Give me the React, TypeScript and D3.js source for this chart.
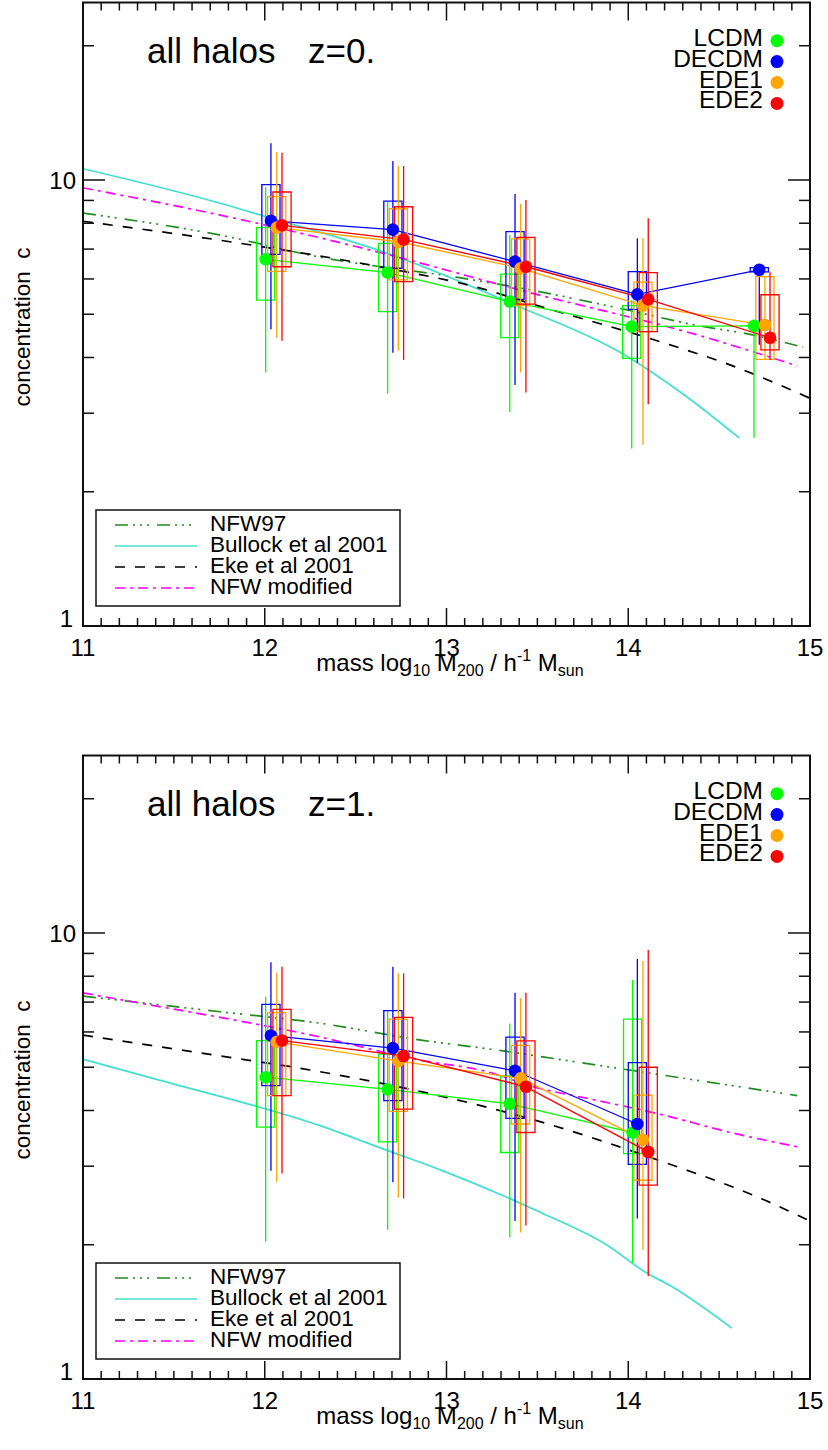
import React from 'react';
import * as d3 from 'd3';

// ---------------- data ----------------
const MODEL_NAMES = ['LCDM', 'DECDM', 'EDE1', 'EDE2'];
const MODEL_COLORS = ['#00ff00', '#0000ff', '#ffa500', '#ff0000'];

const X_TICKS = [11, 12, 13, 14, 15];
const Y_MAJOR = [1, 10];
const Y_MINOR = [2, 3, 4, 5, 6, 7, 8, 9, 20];

// z = 0 panel, rows = models (LCDM, DECDM, EDE1, EDE2)
const Z0_MASS = [
  [12.005, 12.676, 13.348, 14.019, 14.692],
  [12.034, 12.705, 13.377, 14.050, 14.721],
  [12.066, 12.735, 13.408, 14.081, 14.752],
  [12.095, 12.764, 13.437, 14.110, 14.780],
];
const Z0_C = [
  [6.64, 6.20, 5.34, 4.69, 4.71],
  [8.10, 7.74, 6.56, 5.54, 6.29],
  [7.82, 7.27, 6.34, 5.23, 4.73],
  [7.91, 7.35, 6.39, 5.40, 4.43],
];
const Z0_BOX_LO = [
  [5.38, 5.07, 4.43, 3.98, 4.71],
  [6.81, 6.34, 5.40, 5.13, 6.22],
  [6.24, 5.97, 5.23, 4.57, 3.96],
  [6.39, 5.92, 5.27, 4.57, 4.16],
];
const Z0_BOX_HI = [
  [7.82, 7.21, 6.15, 5.23, 4.71],
  [9.76, 8.97, 7.66, 6.23, 6.36],
  [9.18, 8.62, 7.38, 5.90, 6.07],
  [9.40, 8.71, 7.44, 6.20, 5.53],
];
const Z0_WHISK_LO = [
  [3.70, 3.32, 3.02, 2.50, 2.64],
  [4.63, 4.10, 3.47, 3.89, 4.27],
  [4.43, 4.14, 3.70, 2.55, 3.96],
  [4.36, 3.95, 3.34, 3.14, 3.95],
];
const Z0_WHISK_HI = [
  [9.63, 8.93, 7.53, 5.38, 4.84],
  [12.09, 11.03, 9.30, 7.40, 6.29],
  [11.56, 10.75, 8.84, 7.40, 6.07],
  [11.51, 10.75, 9.02, 8.21, 6.23],
];

// z = 1 panel
const Z1_MASS = [
  [12.005, 12.676, 13.348, 14.024],
  [12.034, 12.705, 13.377, 14.050],
  [12.066, 12.735, 13.408, 14.081],
  [12.095, 12.764, 13.437, 14.110],
];
const Z1_C = [
  [4.75, 4.46, 4.14, 3.57],
  [5.89, 5.52, 4.91, 3.73],
  [5.70, 5.16, 4.72, 3.44],
  [5.74, 5.30, 4.52, 3.23],
];
const Z1_BOX_LO = [
  [3.67, 3.40, 3.22, 3.20],
  [4.55, 4.21, 3.84, 3.03],
  [4.32, 3.98, 3.73, 2.79],
  [4.32, 4.03, 3.57, 2.72],
];
const Z1_BOX_HI = [
  [5.74, 5.35, 4.78, 6.41],
  [6.92, 6.70, 5.84, 5.12],
  [6.63, 6.41, 5.60, 4.33],
  [6.74, 6.47, 5.73, 5.00],
];
const Z1_WHISK_LO = [
  [2.03, 2.16, 2.08, 1.82],
  [2.93, 2.76, 2.26, 2.29],
  [2.77, 2.55, 2.13, 1.95],
  [2.89, 2.54, 2.21, 1.70],
];
const Z1_WHISK_HI = [
  [7.20, 6.72, 6.27, 7.85],
  [8.60, 8.40, 7.35, 8.74],
  [8.15, 8.12, 7.14, 8.65],
  [8.40, 8.12, 7.35, 9.16],
];

// analytic curves, z = 0
const Z0_NFW97_MASS = [11.0, 11.75, 12.30, 13.07, 13.40, 13.95, 14.39, 14.69, 14.96];
const Z0_NFW97_C = [8.43, 7.53, 6.72, 6.04, 5.73, 5.16, 4.71, 4.49, 4.22];
const Z0_BULLOCK_MASS = [11.0, 11.75, 12.0, 12.67, 13.40, 13.95, 14.32, 14.61];
const Z0_BULLOCK_C = [10.6, 8.88, 8.29, 6.86, 5.20, 4.12, 3.27, 2.64];
const Z0_EKE_MASS = [11.0, 11.75, 12.63, 13.22, 13.40, 14.23, 14.56, 15.0];
const Z0_EKE_C = [8.08, 7.33, 6.39, 5.67, 5.38, 4.27, 3.85, 3.24];
const Z0_NFWMOD_MASS = [11.0, 11.75, 12.73, 13.40, 14.40, 14.93];
const Z0_NFWMOD_C = [9.6, 8.35, 6.72, 5.67, 4.47, 3.83];

// analytic curves, z = 1
const Z1_NFW97_MASS = [11.0, 11.754, 12.30, 12.85, 13.27, 13.82, 14.37, 14.93];
const Z1_NFW97_C = [7.22, 6.66, 6.28, 5.76, 5.47, 5.06, 4.68, 4.32];
const Z1_BULLOCK_MASS = [11.0, 11.42, 12.32, 12.67, 12.97, 13.53, 13.88, 14.10, 14.23, 14.57];
const Z1_BULLOCK_C = [5.21, 4.68, 3.68, 3.26, 2.94, 2.35, 2.00, 1.73, 1.62, 1.30];
const Z1_EKE_MASS = [11.0, 11.754, 12.25, 13.51, 14.19, 14.73, 15.0];
const Z1_EKE_C = [5.90, 5.30, 4.93, 3.78, 3.07, 2.54, 2.26];
const Z1_NFWMOD_MASS = [11.0, 11.42, 11.754, 12.25, 12.85, 13.22, 13.48, 13.82, 14.19, 14.55, 14.94];
const Z1_NFWMOD_C = [7.34, 6.84, 6.47, 5.91, 5.19, 4.89, 4.52, 4.22, 3.91, 3.58, 3.31];

const CURVE_NAMES = ['NFW97', 'Bullock et al 2001', 'Eke et al 2001', 'NFW modified'];
const CURVE_COLORS = ['#228b22', '#40e0d0', '#000000', '#ff00ff'];
const CURVE_DASH = ['13 5 2 5 2 5 2 8', '', '10 10', '10 5 3 5'];

// ---------------- layout ----------------
const W = 828;
const H = 1450;
const X0 = 83;
const X1 = 810;
const DEC = 446;
const FONT = '"Liberation Sans", Arial, Helvetica, sans-serif';

type PanelProps = {
  id: string;
  y0: number;
  zLabel: string;
  mass: number[][];
  c: number[][];
  boxLo: number[][];
  boxHi: number[][];
  wLo: number[][];
  wHi: number[][];
  curves: { m: number[]; c: number[] }[];
};

function Panel(p: PanelProps) {
  const yTop = p.y0 - DEC * Math.log10(25);
  const x = d3.scaleLinear().domain([11, 15]).range([X0, X1]);
  const y = d3.scaleLog().domain([1, 25]).range([p.y0, yTop]);
  const line = d3
    .line<[number, number]>()
    .x((d) => x(d[0]))
    .y((d) => y(d[1]))
    .curve(d3.curveMonotoneX);
  const straight = d3
    .line<[number, number]>()
    .x((d) => x(d[0]))
    .y((d) => y(d[1]));

  const minorX = d3.range(0, 41).map((i) => 11 + i / 10);
  const halfBox = 0.05;

  return (
    <g>
      <defs>
        <clipPath id={'clip' + p.id}>
          <rect x={X0} y={yTop} width={X1 - X0} height={p.y0 - yTop} />
        </clipPath>
      </defs>

      {/* analytic curves */}
      <g clipPath={`url(#clip${p.id})`}>
        {p.curves.map((cv, i) => (
          <path
            key={i}
            d={line(cv.m.map((m, j) => [m, cv.c[j]] as [number, number])) || ''}
            fill="none"
            stroke={CURVE_COLORS[i]}
            strokeWidth={1.7}
            strokeDasharray={CURVE_DASH[i] || undefined}
          />
        ))}
      </g>

      {/* simulation models */}
      {MODEL_NAMES.map((name, k) => {
        const col = MODEL_COLORS[k];
        const ms = p.mass[k];
        return (
          <g key={name} stroke={col} strokeWidth={1.3} fill="none">
            <path d={straight(ms.map((m, j) => [m, p.c[k][j]] as [number, number])) || ''} />
            {ms.map((m, j) => (
              <g key={j}>
                <line x1={x(m)} x2={x(m)} y1={y(p.wLo[k][j])} y2={y(p.wHi[k][j])} />
                <path
                  d={`M${x(m - halfBox)},${y(p.boxLo[k][j])}H${x(m + halfBox)}V${y(p.boxHi[k][j])}H${x(m - halfBox)}Z`}
                />
              </g>
            ))}
          </g>
        );
      })}
      {MODEL_NAMES.map((name, k) => (
        <g key={'d' + name} fill={MODEL_COLORS[k]}>
          {p.mass[k].map((m, j) => (
            <circle key={j} cx={x(m)} cy={y(p.c[k][j])} r={6.3} />
          ))}
        </g>
      ))}

      {/* frame */}
      <rect x={X0} y={yTop} width={X1 - X0} height={p.y0 - yTop} fill="none" stroke="#111" strokeWidth={2} />

      {/* ticks */}
      <g stroke="#111" strokeWidth={1.5}>
        {minorX.map((v, i) => {
          const len = i % 10 === 0 ? 18 : 8;
          return (
            <g key={i}>
              <line x1={x(v)} x2={x(v)} y1={p.y0} y2={p.y0 - len} />
              <line x1={x(v)} x2={x(v)} y1={yTop} y2={yTop + len} />
            </g>
          );
        })}
        {[...Y_MAJOR, ...Y_MINOR].map((v, i) => {
          const len = Y_MAJOR.includes(v) ? 22 : 11;
          return (
            <g key={'y' + i}>
              <line x1={X0} x2={X0 + len} y1={y(v)} y2={y(v)} />
              <line x1={X1} x2={X1 - len} y1={y(v)} y2={y(v)} />
            </g>
          );
        })}
      </g>

      {/* tick labels */}
      <g fontFamily={FONT} fontSize={24} fill="#000">
        {X_TICKS.map((v) => (
          <text key={v} x={x(v)} y={p.y0 + 30} textAnchor="middle">
            {String(v)}
          </text>
        ))}
        <text x={76} y={y(10) + 9} textAnchor="end">10</text>
        <text x={73} y={y(1) + 1} textAnchor="end">1</text>
      </g>

      {/* axis titles */}
      <text x={450} y={p.y0 + 45} textAnchor="middle" fontFamily={FONT} fontSize={24}>
        mass log
        <tspan fontSize={16} dy={5}>10</tspan>
        <tspan dy={-5}> M</tspan>
        <tspan fontSize={16} dy={5}>200</tspan>
        <tspan dy={-5}> / h</tspan>
        <tspan fontSize={16} dy={-10}>-1</tspan>
        <tspan dy={10}> M</tspan>
        <tspan fontSize={16} dy={5}>sun</tspan>
      </text>
      <text
        transform={`translate(30,${p.y0 - 299}) rotate(-90)`}
        textAnchor="middle"
        fontFamily={FONT}
        fontSize={22.5}
      >
        {'concentration\u00A0 c'}
      </text>

      {/* title */}
      <g fontFamily={FONT} fontSize={35} fill="#000">
        <text x={147} y={p.y0 - 563}>all halos</text>
        <text x={308} y={p.y0 - 563}>{p.zLabel}</text>
      </g>

      {/* model legend */}
      <g fontFamily={FONT} fontSize={24.5}>
        {MODEL_NAMES.map((name, k) => {
          const by = p.y0 - 580.3 + 20.9 * k;
          return (
            <g key={name}>
              <text x={763} y={by} textAnchor="end">{name}</text>
              <circle cx={777} cy={by - 5} r={6.5} fill={MODEL_COLORS[k]} />
            </g>
          );
        })}
      </g>

      {/* curve legend */}
      <rect x={96} y={p.y0 - 116} width={304} height={96} fill="#fff" stroke="#111" strokeWidth={1.5} />
      {CURVE_NAMES.map((name, i) => {
        const ly = p.y0 - 101 + 21 * i;
        return (
          <g key={name}>
            <line
              x1={115}
              x2={197}
              y1={ly}
              y2={ly}
              stroke={CURVE_COLORS[i]}
              strokeWidth={1.7}
              strokeDasharray={CURVE_DASH[i] || undefined}
            />
            <text x={210} y={ly + 6} fontFamily={FONT} fontSize={22.5}>
              {name}
            </text>
          </g>
        );
      })}
    </g>
  );
}

export default function App() {
  const curves0 = [
    { m: Z0_NFW97_MASS, c: Z0_NFW97_C },
    { m: Z0_BULLOCK_MASS, c: Z0_BULLOCK_C },
    { m: Z0_EKE_MASS, c: Z0_EKE_C },
    { m: Z0_NFWMOD_MASS, c: Z0_NFWMOD_C },
  ];
  const curves1 = [
    { m: Z1_NFW97_MASS, c: Z1_NFW97_C },
    { m: Z1_BULLOCK_MASS, c: Z1_BULLOCK_C },
    { m: Z1_EKE_MASS, c: Z1_EKE_C },
    { m: Z1_NFWMOD_MASS, c: Z1_NFWMOD_C },
  ];
  return (
    <svg
      width={W}
      height={H}
      viewBox={`0 0 ${W} ${H}`}
      style={{ position: 'absolute', left: 0, top: 0, background: '#fff' }}
    >
      <rect x={0} y={0} width={W} height={H} fill="#fff" />
      <Panel
        id="a"
        y0={626}
        zLabel="z=0."
        mass={Z0_MASS}
        c={Z0_C}
        boxLo={Z0_BOX_LO}
        boxHi={Z0_BOX_HI}
        wLo={Z0_WHISK_LO}
        wHi={Z0_WHISK_HI}
        curves={curves0}
      />
      <Panel
        id="b"
        y0={1379}
        zLabel="z=1."
        mass={Z1_MASS}
        c={Z1_C}
        boxLo={Z1_BOX_LO}
        boxHi={Z1_BOX_HI}
        wLo={Z1_WHISK_LO}
        wHi={Z1_WHISK_HI}
        curves={curves1}
      />
    </svg>
  );
}
